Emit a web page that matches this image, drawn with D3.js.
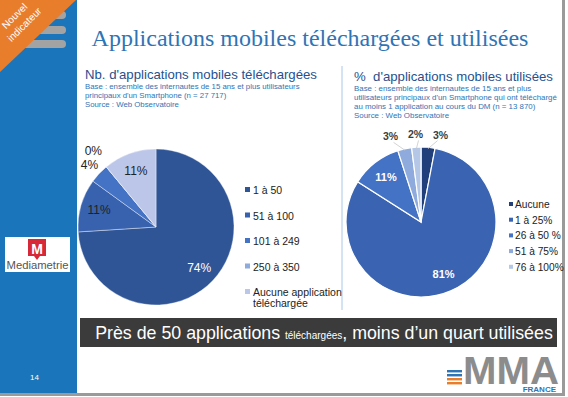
<!DOCTYPE html>
<html>
<head>
<meta charset="utf-8">
<script src="https://cdn.jsdelivr.net/npm/d3@7"></script>
<style>
  html, body { margin: 0; padding: 0; background: #fff; }
  svg { display: block; font-family: "Liberation Sans", Arial, sans-serif; }
</style>
</head>
<body>
<div id="chart"></div>
<script>
// Data
const leftCategories = ["1 à 50", "51 à 100", "101 à 249", "250 à 350", "Aucune application téléchargée"];
const leftValues = [74, 11, 4, 0, 11];
const leftColors = ["#2f5597", "#3861ae", "#4472c4", "#8faadc", "#bcc6e8"];

const rightCategories = ["Aucune", "1 à 25%", "26 à 50 %", "51 à 75%", "76 à 100%"];
const rightValues = [3, 81, 11, 3, 2];
const rightColors = ["#213f7a", "#3a64b2", "#4472c4", "#8faadc", "#b4c7e7"];

const width = 568, height = 397;

const svg = d3.select("#chart")
  .append("svg")
  .attr("width", width)
  .attr("height", height);

// frame + sidebar
svg.append("rect").attr("x", 0).attr("y", 0).attr("width", width).attr("height", height).attr("fill", "#fff");
svg.append("rect").attr("x", 562).attr("y", 0).attr("width", 3).attr("height", 395).attr("fill", "#9a9a9a");
svg.append("rect").attr("x", 0).attr("y", 393).attr("width", 565).attr("height", 3).attr("fill", "#9a9a9a");
svg.append("rect").attr("x", 0).attr("y", 0).attr("width", 77).attr("height", 393).attr("fill", "#1b75bb");

// gray menu bars
[15, 30, 44].forEach(y => {
  svg.append("rect").attr("x", 10).attr("y", y - 4).attr("width", 56).attr("height", 8)
    .attr("rx", 4).attr("fill", "#a3a3a3");
});

// orange corner
svg.append("path").attr("d", "M0,0 L76,0 L0,72 Z").attr("fill", "#e87d2c");
const corner = svg.append("g").attr("transform", "rotate(-45)")
  .attr("fill", "#fff").attr("font-size", 10).attr("text-anchor", "middle");
corner.append("text").attr("x", -1).attr("y", 25).text("Nouvel");
corner.append("text").attr("x", 0).attr("y", 38).text("indicateur");

// title
svg.append("text")
  .attr("x", 310).attr("y", 46)
  .attr("text-anchor", "middle")
  .attr("font-family", "'Liberation Serif', 'DejaVu Serif', serif")
  .attr("font-size", 24)
  .attr("fill", "#2f74b5")
  .text("Applications mobiles téléchargées et utilisées");

// divider
svg.append("line").attr("x1", 342).attr("x2", 342).attr("y1", 66).attr("y2", 310)
  .attr("stroke", "#a9c8e8").attr("stroke-width", 1);

function header(x, y, title, lines, size) {
  svg.append("text").attr("x", x).attr("y", y)
    .attr("font-size", 13.2).attr("fill", "#27508e").text(title);
  lines.forEach((l, i) => {
    svg.append("text").attr("x", x).attr("y", y + 10 + i * 9)
      .attr("font-size", size).attr("fill", "#2f74b5").text(l);
  });
}
header(85, 79, "Nb. d'applications mobiles téléchargées", [
  "Base : ensemble des internautes de 15 ans et plus utilisateurs",
  "principaux d'un Smartphone  (n = 27 717)",
  "Source : Web Observatoire"
], 7.8);
header(354, 81, "%\u00a0 d'applications mobiles utilisées", [
  "Base : ensemble des internautes de 15 ans et plus",
  "utilisateurs principaux d'un Smartphone qui ont téléchargé",
  "au moins 1 application au cours du DM (n = 13 870)",
  "Source : Web Observatoire"
], 7.9);

const pie = d3.pie().sort(null).value(d => d);
const pt = (a, r) => [r * Math.sin(a), -r * Math.cos(a)];
const mid = d => (d.startAngle + d.endAngle) / 2;

// Left pie
function drawLeft() {
  const cx = 156, cy = 227, R = 78;
  const g = svg.append("g").attr("transform", `translate(${cx},${cy})`);
  const arcs = pie(leftValues);
  const arc = d3.arc().innerRadius(0).outerRadius(R);
  g.selectAll("path").data(arcs).join("path")
    .attr("d", arc)
    .attr("fill", (d, i) => leftColors[i])
    .attr("stroke", "#fff").attr("stroke-width", 0.4);

  g.selectAll("text").data(arcs).join("text")
    .attr("transform", d => {
      const small = d.data < 5;
      const r = small ? R * (d.data === 0 ? 1.26 : 1.17) : R * 0.76;
      const [x, y] = pt(mid(d), r);
      return `translate(${x},${y + 4})`;
    })
    .attr("text-anchor", "middle")
    .attr("font-size", 12)
    .attr("fill", (d, i) => i === 0 ? "#fff" : "#222")
    .text(d => d.data + "%");

  const leg = svg.append("g").attr("transform", "translate(245,190)");
  const item = leg.selectAll("g").data(leftCategories).join("g")
    .attr("transform", (d, i) => `translate(0,${i * 25.5})`);
  item.append("rect").attr("x", 0).attr("y", -3).attr("width", 5).attr("height", 5)
    .attr("fill", (d, i) => leftColors[i]);
  item.each(function (d) {
    const t = d3.select(this).append("text").attr("x", 8).attr("y", 4)
      .attr("font-size", 10.5).attr("fill", "#222");
    const words = d.split(" ");
    let line = [], tspan = t.append("tspan").attr("x", 8);
    words.forEach(w => {
      line.push(w);
      tspan.text(line.join(" "));
      if (tspan.node().getComputedTextLength() > 90 && line.length > 1) {
        line.pop();
        tspan.text(line.join(" "));
        line = [w];
        tspan = t.append("tspan").attr("x", 8).attr("dy", 11).text(w);
      }
    });
  });
}

// Right pie
function drawRight() {
  const cx = 421, cy = 222, R = 75;
  const g = svg.append("g").attr("transform", `translate(${cx},${cy})`);
  const arcs = pie(rightValues);
  const arc = d3.arc().innerRadius(0).outerRadius(R);
  g.selectAll("path").data(arcs).join("path")
    .attr("d", arc)
    .attr("fill", (d, i) => rightColors[i])
    .attr("stroke", "#fff").attr("stroke-width", 1.2);

  // outside labels: start on their slice, then push apart so they don't collide
  const outside = arcs.filter(d => d.data < 5).map(d => {
    const [x, y] = pt(mid(d), R * 1.17);
    return { d, x, y };
  }).sort((a, b) => a.x - b.x);
  for (let k = 0; k < 40; k++) {
    for (let j = 1; j < outside.length; j++) {
      const gap = outside[j].x - outside[j - 1].x;
      if (gap < 25) {
        const push = (25 - gap) / 2;
        outside[j - 1].x -= push;
        outside[j].x += push;
      }
    }
  }

  g.selectAll("line.lead").data(outside).join("line")
    .attr("class", "lead")
    .each(function (o) {
      const [x1, y1] = pt(mid(o.d), R * 0.98);
      d3.select(this).attr("x1", x1).attr("y1", y1)
        .attr("x2", o.x + (x1 < o.x ? -3 : 3)).attr("y2", o.y + 6);
    })
    .attr("stroke", "#c8c8c8").attr("stroke-width", 0.8);

  g.selectAll("text.out").data(outside).join("text")
    .attr("class", "out")
    .attr("x", o => o.x).attr("y", o => o.y + 4)
    .attr("text-anchor", "middle")
    .attr("font-size", 10.5).attr("font-weight", "bold").attr("fill", "#404040")
    .text(o => o.d.data + "%");

  g.selectAll("text.in").data(arcs.filter(d => d.data >= 5)).join("text")
    .attr("class", "in")
    .attr("transform", d => {
      const [x, y] = pt(mid(d), R * 0.76);
      return `translate(${x},${y + 4})`;
    })
    .attr("text-anchor", "middle")
    .attr("font-size", 11).attr("font-weight", "bold").attr("fill", "#fff")
    .text(d => d.data + "%");

  const leg = svg.append("g").attr("transform", "translate(509,204)");
  const item = leg.selectAll("g").data(rightCategories).join("g")
    .attr("transform", (d, i) => `translate(0,${i * 15.7})`);
  item.append("rect").attr("x", 0).attr("y", -2).attr("width", 4).attr("height", 4)
    .attr("fill", (d, i) => rightColors[i]);
  item.append("text").attr("x", 6).attr("y", 4)
    .attr("font-size", 10.2).attr("fill", "#222").text(d => d);
}

drawLeft();
drawRight();

// Mediametrie logo
svg.append("rect").attr("x", 5).attr("y", 237).attr("width", 65).attr("height", 35).attr("fill", "#fff");
svg.append("path")
  .attr("d", "M28,239 L46,239 L46,256 L40,256 L37,260 L34,256 L28,256 Z")
  .attr("fill", "#d7283a");
svg.append("text").attr("x", 37).attr("y", 254).attr("text-anchor", "middle")
  .attr("font-size", 14).attr("font-weight", "bold").attr("fill", "#fff").text("M");
svg.append("text").attr("x", 37.5).attr("y", 269).attr("text-anchor", "middle")
  .attr("font-size", 10.5).attr("fill", "#555")
  .attr("textLength", 62).attr("lengthAdjust", "spacingAndGlyphs").text("Mediametrie");

// bottom banner
svg.append("rect").attr("x", 80).attr("y", 318).attr("width", 477).attr("height", 29).attr("fill", "#3b3b3b");
const msg = svg.append("text").attr("x", 324).attr("y", 339).attr("text-anchor", "middle")
  .attr("fill", "#fff").attr("font-size", 17.8);
msg.append("tspan").text("Près de 50 applications ");
msg.append("tspan").attr("font-size", 10).text("téléchargées");
msg.append("tspan").text(", moins d’un quart utilisées");

// page number
svg.append("text").attr("x", 30).attr("y", 380).attr("font-size", 8).attr("fill", "#fff").text("14");

// MMA logo
svg.append("text").attr("x", 463).attr("y", 384).attr("font-size", 39).attr("font-weight", "bold")
  .attr("fill", "#8c8c8c").attr("textLength", 96).attr("lengthAdjust", "spacingAndGlyphs").text("MMA");
[["#2f74b5", 370], ["#2f74b5", 374], ["#e87d2c", 378], ["#e87d2c", 382]].forEach(([c, y]) => {
  svg.append("rect").attr("x", 447).attr("y", y).attr("width", 15).attr("height", 2.4).attr("fill", c);
});
svg.append("text").attr("x", 556).attr("y", 392).attr("text-anchor", "end").attr("font-size", 8)
  .attr("font-weight", "bold").attr("fill", "#2f74b5").text("FRANCE");
</script>
</body>
</html>
